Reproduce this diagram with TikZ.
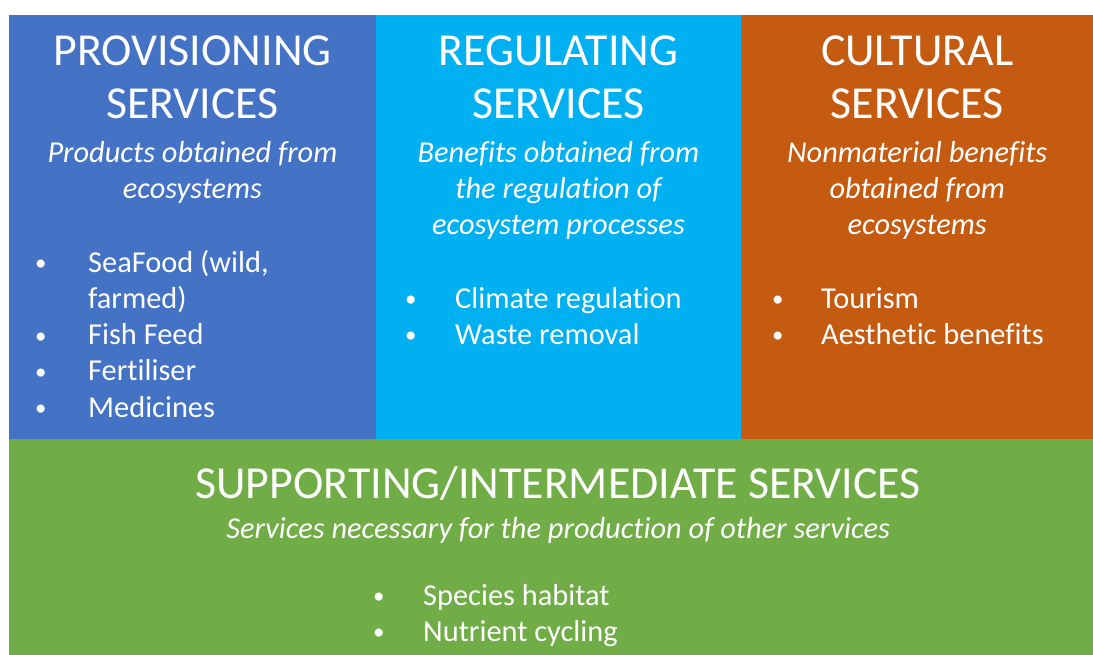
\documentclass[tikz,border=0pt]{standalone}
\usepackage{fontspec}
\setmainfont[Ligatures=NoCommon]{Carlito}
\usetikzlibrary{positioning}
\definecolor{provblue}{HTML}{4472C4}
\definecolor{regulblue}{HTML}{00B0F0}
\definecolor{cultorange}{HTML}{C55A11}
\definecolor{suppgreen}{HTML}{70AD47}
\newcommand{\listdot}{\raisebox{1.5bp}{\fontsize{23}{36}\selectfont\textbullet}}
\tikzset{panel/.style={inner sep=0pt, anchor=north west},
  heading/.style={text=white, align=center, inner sep=0pt,
    font=\fontsize{46}{53}\selectfont},
  blurb/.style={text=white, align=center, inner sep=0pt,
    font=\fontsize{30.5}{36}\selectfont\itshape, node distance=22bp},
  dotlist/.style={text=white, inner sep=0pt, anchor=base west,
    font=\fontsize{30.5}{36.4}\selectfont},
  services/.style={x=1bp, y=-1bp, node distance=21bp}}

\begin{document}
\begin{tikzpicture}[services]
    \fill[white] (0,0) rectangle (1093,655);
    \useasboundingbox (0,0) rectangle (1093,655);
    % the three upper panels and the wide one below them
    \node[panel, fill=provblue, minimum width=366.5bp, minimum height=424bp] (prov) at (9,15) {};
    \node[panel, fill=regulblue, minimum width=365.5bp, minimum height=424bp] (regul) at (375.5,15) {};
    \node[panel, fill=cultorange, minimum width=352bp, minimum height=424bp] (cult) at (741,15) {};
    \node[panel, fill=suppgreen, minimum width=1084bp, minimum height=216bp] (supp) at (9,439) {};
    % headings and their short descriptions
    \node[heading, below=21bp of prov.north] (provhead) {PROVISIONING\\SERVICES};
    \node[blurb, below=of provhead] (provblurb) {Products obtained from\\ecosystems};
    \node[heading, below=21bp of regul.north] (regulhead) {REGULATING\\SERVICES};
    \node[blurb, below=of regulhead] (regulblurb) {Benefits obtained from\\the regulation of\\ecosystem processes};
    \node[heading, below=21bp of cult.north] (culthead) {CULTURAL\\SERVICES};
    \node[blurb, below=of culthead] (cultblurb) {Nonmaterial benefits\\obtained from\\ecosystems};
    \node[heading, below=27bp of supp.north, xshift=7bp] (supphead) {SUPPORTING/INTERMEDIATE SERVICES};
    \node[blurb, below=17bp of supphead] (suppblurb) {Services necessary for the production of other services};
    % bullet lists
    \node[dotlist] (provlist) at (35,272) {\begin{tabular}[t]{@{}p{53bp}@{}l@{}}
      \listdot & SeaFood (wild,\\
               & farmed)\\
      \listdot & Fish Feed\\
      \listdot & Fertiliser\\
      \listdot & Medicines
    \end{tabular}};
    \node[dotlist] (regullist) at (405,308) {\begin{tabular}[t]{@{}p{50bp}@{}l@{}}
      \listdot & Climate regulation\\
      \listdot & Waste removal
    \end{tabular}};
    \node[dotlist] (cultlist) at (772,308) {\begin{tabular}[t]{@{}p{49bp}@{}l@{}}
      \listdot & Tourism\\
      \listdot & Aesthetic benefits
    \end{tabular}};
    \node[dotlist] (supplist) at (373,605) {\begin{tabular}[t]{@{}p{50bp}@{}l@{}}
      \listdot & Species habitat\\
      \listdot & Nutrient cycling
    \end{tabular}};
  \end{tikzpicture}
\end{document}
